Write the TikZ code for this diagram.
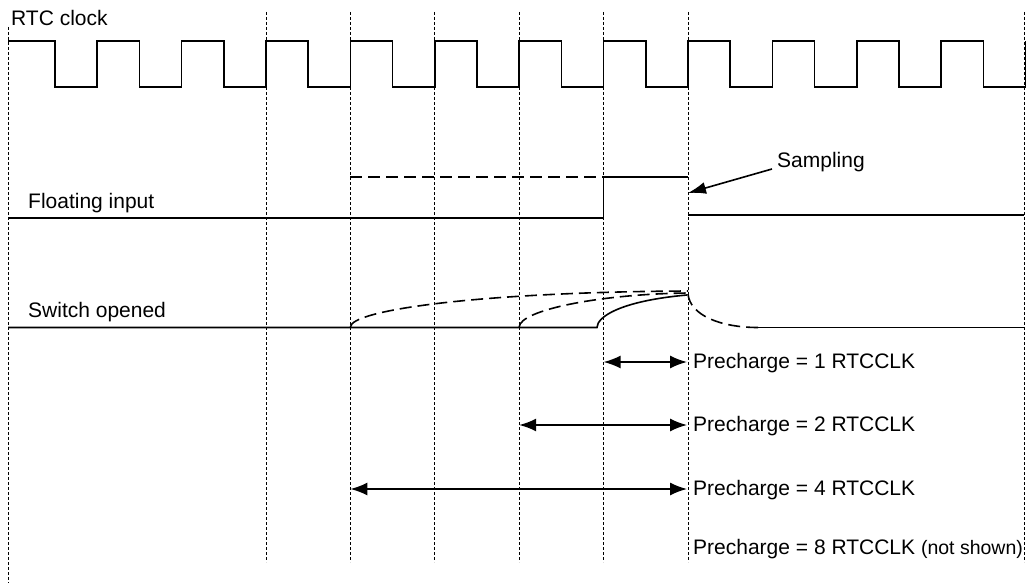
\documentclass[tikz,border=0pt]{standalone}
\usepackage{fontspec}
\setmainfont{Liberation Sans}
\usetikzlibrary{arrows.meta}
\begin{document}
\begin{tikzpicture}[x=1pt,y=-1pt,
  grid/.style={line width=1pt, dash pattern=on 3pt off 2pt, black},
  sig/.style={line width=1.6pt},
  sigdash/.style={line width=1.6pt, dash pattern=on 12pt off 6pt},
  lbl/.style={inner sep=0pt, anchor=base west, font=\fontsize{21}{24}\selectfont},
  dbl/.style={line width=1.6pt, {Latex[length=17pt,width=13pt]}-{Latex[length=17pt,width=13pt]}},
]
\useasboundingbox (0,0) rectangle (1030,583);

% grid lines
\draw[grid] (8,27) -- (8,583);
\foreach \x in {266,350.4,434.8,519.2,603.6,688,1024}
  \draw[grid] (\x,12) -- (\x,562);

% labels
\node[lbl] (rtc) at (11,26) {RTC clock};
\node[lbl] (flt) at (28,208) {Floating input};
\node[lbl] (sw) at (28,317) {Switch opened};
\node[lbl] (samp) at (777,167) {Sampling};
\node[lbl] (pc1) at (693,368) {Precharge = 1 RTCCLK};
\node[lbl] (pc2) at (693,431) {Precharge = 2 RTCCLK};
\node[lbl] (pc4) at (693,495) {Precharge = 4 RTCCLK};
\node[lbl] (pc8) at (693,554) {Precharge = 8 RTCCLK {\fontsize{19.5}{21}\selectfont (not shown)}};

% clock
\draw[sig] (8,41) foreach \k in {-3,...,8} {
  -- ({266+84.4*\k+42.2},41) -- ({266+84.4*\k+42.2},87)
  -- ({266+84.4*(\k+1)},87) -- ({266+84.4*(\k+1)},41) };

% floating input
\draw[sig] (8,218) -- (603.6,218) -- (603.6,177) -- (688,177);
\draw[sigdash] (350.4,177) -- (603.6,177);
\draw[sig] (688,215) -- (1024,215);

% switch opened
\draw[sig] (8,327.5) -- (597,327.5) .. controls (597,317) and (620,301) .. (687,295);
\draw[sigdash] (350.4,327) .. controls (351,310) and (480,292) .. (688,291);
\draw[sigdash] (519.2,327) .. controls (520,310) and (600,294) .. (688,293);
\draw[sigdash] (688,294) .. controls (690,315) and (720,327.5) .. (758,327.5);
\draw[sig] (758,327.5) -- (1024,327.5);

% sampling arrow
\coordinate (sfrom) at (772,169);
\coordinate (sto) at (688,193);
\draw[sig, -{Latex[length=18pt,width=12pt]}] (sfrom) -- (sto);

% precharge arrows
\coordinate (a1) at (603.6,362); \coordinate (b1) at (687,362);
\coordinate (a2) at (519.2,425); \coordinate (b2) at (687,425);
\coordinate (a4) at (350.4,489); \coordinate (b4) at (687,489);
\draw[dbl] (a1) -- (b1);
\draw[dbl] (a2) -- (b2);
\draw[dbl] (a4) -- (b4);
\end{tikzpicture}
\end{document}
